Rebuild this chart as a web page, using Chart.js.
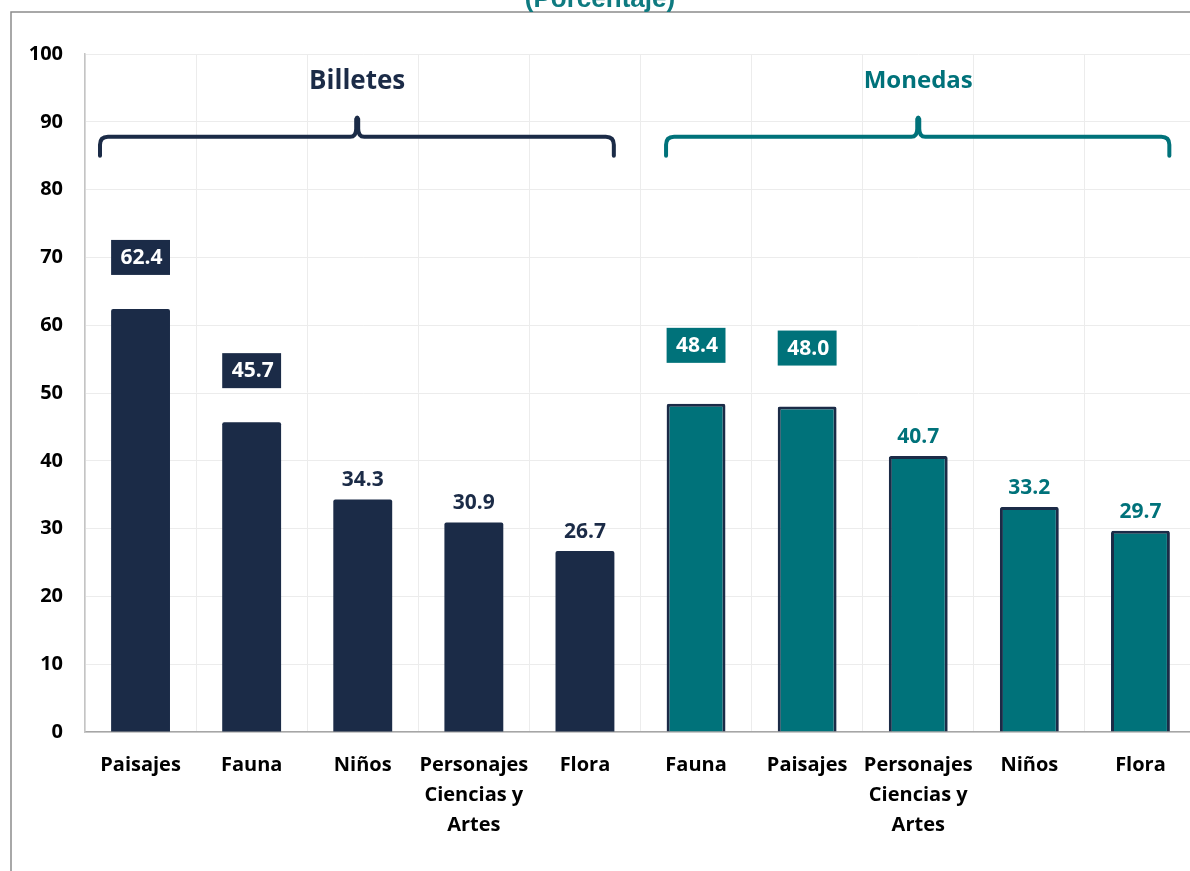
<!DOCTYPE html>
<html>
<head>
<meta charset="utf-8">
<script src="https://cdn.jsdelivr.net/npm/chart.js@4.4.1/dist/chart.umd.min.js"></script>
<style>
  html, body { margin: 0; padding: 0; background: #fff; overflow: hidden; }
  #wrap { position: relative; width: 1200px; height: 871px; }
</style>
</head>
<body>
<div id="wrap"><canvas id="grafico" width="1200" height="871"></canvas></div>
<script>
// Datos (porcentaje)
const billetesLabels = ['Paisajes', 'Fauna', 'Niños', ['Personajes', 'Ciencias y', 'Artes'], 'Flora'];
const billetesValues = [62.4, 45.7, 34.3, 30.9, 26.7];
const monedasLabels = ['Fauna', 'Paisajes', ['Personajes', 'Ciencias y', 'Artes'], 'Niños', 'Flora'];
const monedasValues = [48.4, 48.0, 40.7, 33.2, 29.7];
const yTicks = [0, 10, 20, 30, 40, 50, 60, 70, 80, 90, 100];

const NAVY = '#1b2b47';
const TEAL = '#00727a';
const FONT = '"Open Sans", sans-serif';

// Construir etiquetas y series (nulls para separar grupos)
const labels = billetesLabels.concat(monedasLabels);
const billetesData = billetesValues.concat(monedasValues.map(() => null));
const monedasData = billetesValues.map(() => null).concat(monedasValues);

// Plugin para marco, título, llaves y etiquetas de valor
const adornos = {
  id: 'adornos',
  beforeDraw(chart) {
    const ctx = chart.ctx;
    ctx.save();
    ctx.strokeStyle = '#8c8c8c';
    ctx.lineWidth = 1.5;
    ctx.beginPath();
    ctx.moveTo(11, chart.height);
    ctx.lineTo(11, 12);
    ctx.lineTo(chart.width, 12);
    ctx.stroke();
    ctx.fillStyle = '#0e7a80';
    ctx.font = 'bold 26px "Liberation Sans", Arial, sans-serif';
    ctx.textAlign = 'center';
    ctx.textBaseline = 'alphabetic';
    ctx.fillText('(Porcentaje)', 600, 7);
    ctx.restore();
  },
  afterDatasetsDraw(chart) {
    const ctx = chart.ctx;
    const x = chart.scales.x;
    const y = chart.scales.y;
    const step = x.getPixelForValue(1) - x.getPixelForValue(0);

    // llaves de grupo
    const grupos = [
      { text: 'Billetes', color: NAVY, size: 26, from: -0.365, to: 4.26, tip: 1.95 },
      { text: 'Monedas', color: TEAL, size: 24, from: 4.73, to: 9.26, tip: 7.0 }
    ];
    grupos.forEach(g => {
      const x0 = x.getPixelForValue(0) + g.from * step;
      const x1 = x.getPixelForValue(0) + g.to * step;
      const xt = x.getPixelForValue(0) + g.tip * step;
      const yH = y.getPixelForValue(87.8);
      const yEnd = y.getPixelForValue(85.0);
      const yTip = y.getPixelForValue(90.7);
      const r = 8;
      ctx.save();
      ctx.strokeStyle = g.color;
      ctx.lineWidth = 4;
      ctx.lineCap = 'round';
      ctx.lineJoin = 'round';
      ctx.beginPath();
      ctx.moveTo(x0, yEnd);
      ctx.lineTo(x0, yH + r);
      ctx.quadraticCurveTo(x0, yH, x0 + r, yH);
      ctx.lineTo(xt - 7, yH);
      ctx.quadraticCurveTo(xt - 1, yH, xt - 1, yH - 8);
      ctx.lineTo(xt - 1, yTip + 2);
      ctx.quadraticCurveTo(xt, yTip - 1, xt + 1, yTip + 2);
      ctx.lineTo(xt + 1, yH - 8);
      ctx.quadraticCurveTo(xt + 1, yH, xt + 7, yH);
      ctx.lineTo(x1 - r, yH);
      ctx.quadraticCurveTo(x1, yH, x1, yH + r);
      ctx.lineTo(x1, yEnd);
      ctx.stroke();
      ctx.fillStyle = g.color;
      ctx.font = 'bold ' + g.size + 'px ' + FONT;
      ctx.textAlign = 'center';
      ctx.textBaseline = 'middle';
      ctx.fillText(g.text, xt, y.getPixelForValue(96));
      ctx.restore();
    });

    // etiquetas de valor
    chart.data.datasets.forEach((ds, di) => {
      const meta = chart.getDatasetMeta(di);
      const color = di === 0 ? NAVY : TEAL;
      let n = 0;
      meta.data.forEach((bar, i) => {
        const v = ds.data[i];
        if (v === null) return;
        const txt = v.toFixed(1);
        ctx.save();
        ctx.font = 'bold 21px ' + FONT;
        ctx.textAlign = 'center';
        ctx.textBaseline = 'middle';
        if (n < 2) {
          const cy = bar.y - (di === 0 ? 52 : 59);
          const w = bar.width;
          ctx.fillStyle = color;
          ctx.fillRect(bar.x - w / 2, cy - 17, w, 35);
          ctx.fillStyle = '#ffffff';
          ctx.fillText(txt, bar.x + 1, cy + 1);
        } else {
          ctx.fillStyle = color;
          ctx.fillText(txt, bar.x, bar.y - 19);
        }
        ctx.restore();
        n++;
      });
    });
  }
};

new Chart(document.getElementById('grafico'), {
  type: 'bar',
  data: {
    labels: labels,
    datasets: [{
      label: 'Billetes',
      data: billetesData,
      backgroundColor: NAVY,
      borderWidth: 0,
      borderRadius: 2,
      borderSkipped: 'bottom'
    }, {
      label: 'Monedas',
      data: monedasData,
      backgroundColor: TEAL,
      borderColor: NAVY,
      borderWidth: 3,
      borderRadius: 2,
      borderSkipped: 'bottom'
    }]
  },
  options: {
    responsive: false,
    animation: false,
    devicePixelRatio: 1,
    skipNull: true,
    categoryPercentage: 1.0,
    barPercentage: 0.53,
    layout: { padding: { top: 54, left: 0, right: 4, bottom: 0 } },
    plugins: {
      legend: { display: false },
      tooltip: { enabled: false },
      title: { display: false }
    },
    scales: {
      x: {
        grid: { color: '#ececec', lineWidth: 1, drawTicks: false },
        border: { color: '#a6a6a6', width: 1.5 },
        ticks: {
          color: '#000000',
          padding: 18,
          maxRotation: 0,
          autoSkip: false,
          font: { family: FONT, weight: 'bold', size: 20, lineHeight: 1.5 }
        },
        afterFit(scale) { scale.height = 139; }
      },
      y: {
        min: 0,
        max: 100,
        afterBuildTicks(scale) { scale.ticks = yTicks.map(v => ({ value: v })); },
        grid: { color: '#ececec', lineWidth: 1, drawTicks: false },
        border: { color: '#c4c4c4', width: 1.5 },
        ticks: {
          color: '#000000',
          padding: 22,
          font: { family: FONT, weight: 'bold', size: 20 }
        },
        afterFit(scale) { scale.width = 85; }
      }
    }
  },
  plugins: [adornos]
});
</script>
</body>
</html>
